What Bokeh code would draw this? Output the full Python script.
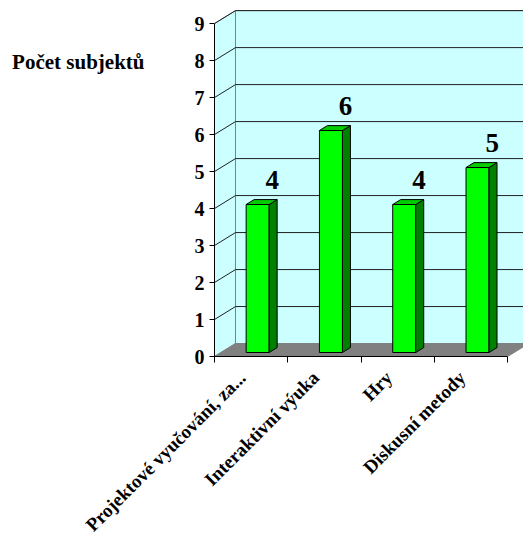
import math
from bokeh.plotting import figure
from bokeh.models import Range1d, FixedTicker, LinearAxis
from bokeh.embed import file_html
from bokeh.resources import INLINE
from bokeh.core.properties import value

# ---- data ----
categories = ["Projektové vyučování, za...", "Interaktivní výuka", "Hry", "Diskusní metody"]
counts = [4, 6, 4, 5]
y_ticks = [0, 1, 2, 3, 4, 5, 6, 7, 8, 9]
y_max = 9
y_title = "Počet subjektů"

# ---- style / geometry (3D look) ----
FONT = "Liberation Serif"
DX, DY = 0.2865, 0.35          # depth offset of the back wall (data units)
X_END = 4.216
Y_END = 9.38
BAR_W = 0.314
D0, D1 = 0.31, 0.69            # bar depth span (fraction of wall depth)
WALL = "#CCFFFF"
FLOOR = "#808080"
LABEL_SHIFT = -0.12
TITLE_POS = 7.95

n = len(categories)

p = figure(width=523, height=545, output_backend="svg", toolbar_location=None,
           x_range=Range1d(0, X_END), y_range=Range1d(0, Y_END),
           min_border_left=214, min_border_right=0, min_border_top=9, min_border_bottom=188)
p.outline_line_color = None
p.xgrid.visible = False
p.ygrid.visible = False
p.background_fill_color = "white"
p.border_fill_color = "white"

# walls
p.patch([0, 0, DX, DX], [0, y_max, y_max + DY, DY], fill_color=WALL, line_color="#808080", line_width=1)
p.patch([DX, DX, n + DX, n + DX], [DY, y_max + DY, y_max + DY, DY],
        fill_color=WALL, line_color="#808080", line_width=1)
# grid lines on the walls
grid_k = [k for k in y_ticks if k > 0]
p.segment(x0=[DX] * len(grid_k), y0=[k + DY for k in grid_k],
          x1=[n + DX] * len(grid_k), y1=[k + DY for k in grid_k], line_color="#202020", line_width=1)
p.segment(x0=[0] * len(grid_k), y0=grid_k,
          x1=[DX] * len(grid_k), y1=[k + DY for k in grid_k], line_color="#202020", line_width=1)
# floor
p.patch([0, n, n + DX, DX], [0, 0, DY, DY], fill_color=FLOOR, line_color=FLOOR, line_width=1)

# bars
fx, fy, sx, sy, tx, ty = [], [], [], [], [], []
base = D0 * DY
ddx = (D1 - D0) * DX
ddy = (D1 - D0) * DY
for i, v in enumerate(counts):
    cx = i + 0.5 + D0 * DX
    x0, x1 = cx - BAR_W / 2, cx + BAR_W / 2
    top = v + base
    fx.append([x0, x1, x1, x0]); fy.append([base, base, top, top])
    sx.append([x1, x1 + ddx, x1 + ddx, x1]); sy.append([base, base + ddy, top + ddy, top])
    tx.append([x0, x1, x1 + ddx, x0 + ddx]); ty.append([top, top, top + ddy, top + ddy])
p.patches(fx, fy, fill_color="#00FF00", line_color="black", line_width=1)
p.patches(sx, sy, fill_color="#008000", line_color="black", line_width=1)
p.patches(tx, ty, fill_color="#00CC00", line_color="black", line_width=1)

# value labels
p.text(x=[i + 0.5 + D0 * DX + 0.2 for i in range(n)], y=[v + 0.77 for v in counts],
       text=[str(v) for v in counts], text_font=value(FONT), text_font_style="bold",
       text_font_size="27px", text_align="center", text_baseline="alphabetic", text_color="black")

# y axis
ya = p.yaxis[0]
ya.ticker = FixedTicker(ticks=y_ticks)
ya.bounds = (0, y_max)
ya.axis_line_color = "black"
ya.major_tick_line_color = "black"
ya.major_tick_out = 5
ya.major_tick_in = 0
ya.minor_tick_line_color = None
ya.major_label_standoff = 5
ya.major_label_text_font = FONT
ya.major_label_text_font_style = "bold"
ya.major_label_text_font_size = "20px"
ya.major_label_text_color = "black"

# y title as a second, line-less axis with a single labelled tick
ta = LinearAxis(ticker=FixedTicker(ticks=[TITLE_POS]),
                major_label_overrides={TITLE_POS: y_title})
ta.axis_line_color = None
ta.major_tick_line_color = None
ta.minor_tick_line_color = None
ta.major_label_standoff = 41
ta.major_label_text_font = FONT
ta.major_label_text_font_style = "bold"
ta.major_label_text_font_size = "21px"
ta.major_label_text_color = "black"
p.add_layout(ta, "left")

# x axis
xa = p.xaxis[0]
xa.ticker = FixedTicker(ticks=[i + 0.5 + LABEL_SHIFT for i in range(n)], minor_ticks=list(range(n + 1)))
xa.major_label_overrides = {i + 0.5 + LABEL_SHIFT: c for i, c in enumerate(categories)}
xa.bounds = (0, n)
xa.axis_line_color = "black"
xa.major_tick_line_color = None
xa.minor_tick_line_color = "black"
xa.minor_tick_out = 6
xa.minor_tick_in = 0
xa.major_label_orientation = math.pi / 4
xa.major_label_standoff = 12
xa.major_label_text_font = FONT
xa.major_label_text_font_style = "bold"
xa.major_label_text_font_size = "19px"
xa.major_label_text_color = "black"

open("out.html", "w").write(file_html(p, INLINE))
